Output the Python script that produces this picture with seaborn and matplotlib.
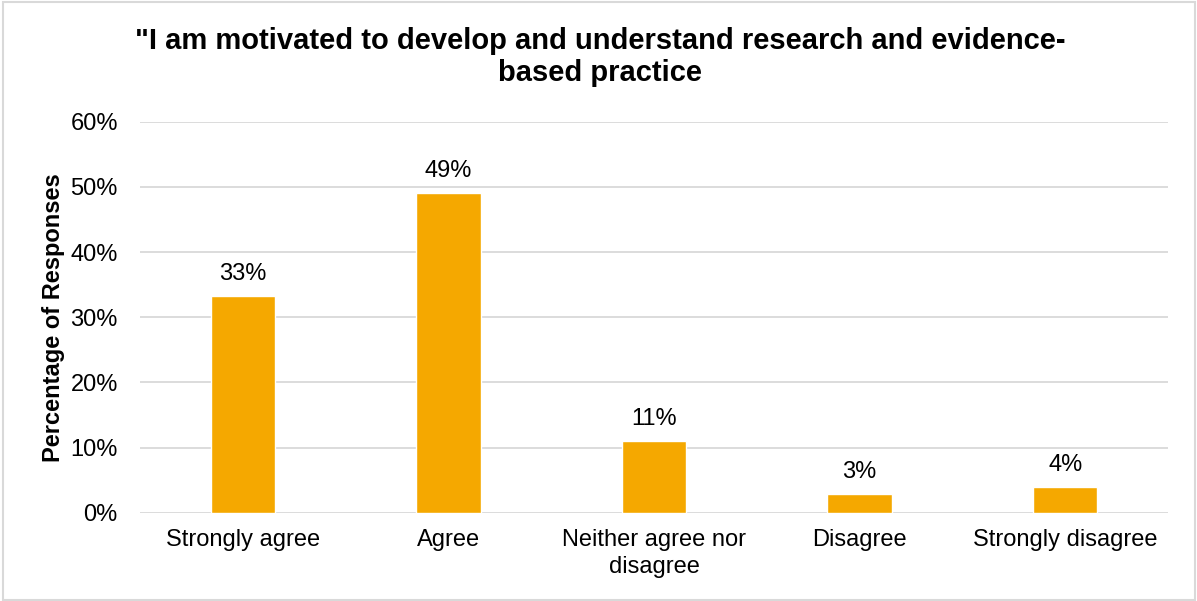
import matplotlib
matplotlib.use("Agg")
import matplotlib.pyplot as plt
import seaborn as sns
import pandas as pd
from matplotlib.patches import Rectangle
from matplotlib.ticker import FuncFormatter

# Survey responses (percentage of respondents)
categories = ["Strongly agree", "Agree", "Neither agree nor\ndisagree", "Disagree", "Strongly disagree"]
percentages = [33.2, 49.0, 11.0, 2.8, 3.9]
y_ticks = [0, 10, 20, 30, 40, 50, 60]
title = '"I am motivated to develop and understand research and evidence-\nbased practice'
y_label = "Percentage of Responses"

bar_color = "#F5A800"
grid_color = "#D9D9D9"

sns.set_style("white")
plt.rcParams["font.family"] = ["Liberation Sans", "DejaVu Sans"]

df = pd.DataFrame({"category": categories, "pct": percentages})

fig = plt.figure(figsize=(11.97, 6.01), dpi=100)
ax = fig.add_axes([140 / 1197, 1 - 512.7 / 601, 1028 / 1197, (512.7 - 121.7) / 601])

sns.barplot(data=df, x="category", y="pct", color=bar_color, width=0.314,
            saturation=1, ax=ax, zorder=3)

ax.set_ylim(0, 60)
ax.set_xlim(-0.5, len(categories) - 0.5)
ax.set_yticks(y_ticks)
ax.yaxis.set_major_formatter(FuncFormatter(lambda v, _: f"{v:.0f}%"))
ax.yaxis.grid(True, color=grid_color, linewidth=1.3, zorder=0)
ax.set_axisbelow(True)
for s in ax.spines.values():
    s.set_visible(False)
ax.tick_params(axis="both", length=0, labelsize=17, colors="black")
ax.tick_params(axis="y", pad=16)
ax.tick_params(axis="x", pad=12)
for lbl in ax.get_xticklabels():
    lbl.set_linespacing(1.25)

ax.set_xlabel("")
ax.set_ylabel(y_label, fontsize=17, fontweight="bold", color="black")
ax.yaxis.set_label_coords(-0.073, 0.5)

# Value labels above each bar
for i, v in enumerate(percentages):
    ax.annotate(f"{v:.0f}%", (i, v), xytext=(0, 8), textcoords="offset points",
                ha="center", va="bottom", fontsize=17, color="black")

fig.text(600 / 1197, 1 - 27 / 601, title, ha="center", va="top",
         fontsize=21, fontweight="bold", color="black", linespacing=1.2)

# Light frame around the whole chart
fig.patches.append(Rectangle((3 / 1197, 1.5 / 601), 1 - 5 / 1197, 1 - 3 / 601,
                             transform=fig.transFigure, fill=False,
                             edgecolor=grid_color, linewidth=1.5))

fig.savefig("out.png", dpi=100)
